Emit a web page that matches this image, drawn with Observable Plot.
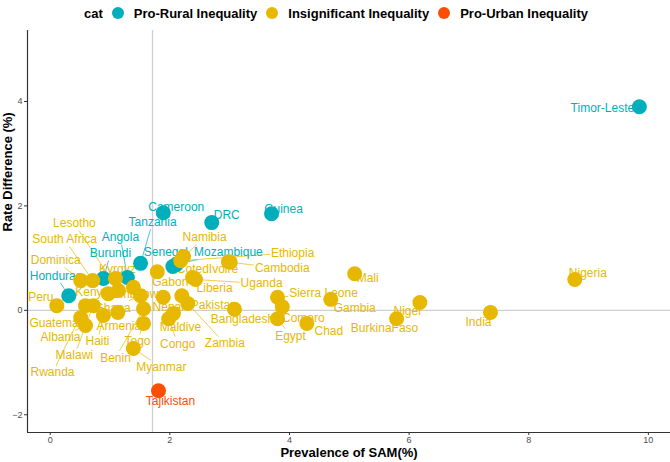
<!DOCTYPE html>
<html>
<head>
<meta charset="utf-8">
<script src="https://cdn.jsdelivr.net/npm/d3@7"></script>
<script src="https://cdn.jsdelivr.net/npm/@observablehq/plot@0.6"></script>
<style>
  html, body { margin: 0; padding: 0; background: #fff; }
  body { width: 670px; height: 462px; overflow: hidden; font-family: "Liberation Sans", Arial, sans-serif; }
  #legend { height: 28px; display: flex; align-items: center; justify-content: center; font-weight: bold; font-size: 13px; color: #000; padding-left: 2px; padding-bottom: 2px; box-sizing: border-box; }
  #legend .sw { display: inline-block; width: 12px; height: 12px; border-radius: 50%; margin: 0 10px 0 9px; }
  #legend .it { display: inline-flex; align-items: center; }
  svg { display: block; }
</style>
</head>
<body>
<div id="legend"></div>
<div id="chart"></div>
<script>
// ---- data ----
const countries = ["Honduras","Burundi","Angola","Tanzania","Senegal","Mozambique","Cameroon","DRC","Guinea","Timor-Leste",
  "Tajikistan",
  "Peru","Dominica","South Africa","Kyrgyz","Lesotho","Kenya","Zimbabwe","Ghana","Rwanda","Malawi",
  "Guatemala","Albania","Haiti","Armenia","Benin","Togo","Myanmar","Nepal","Congo","Maldive",
  "Zambia","Pakistan","Liberia","Uganda","Cambodia","CotedIvoire","Gabon","Namibia","Ethiopia","Bangladesh",
  "Sierra Leone","Comoro","Egypt","Chad","Gambia","Mali","Niger","BurkinaFaso","India","Nigeria"];
const sam = [0.31,0.89,1.29,1.51,2.05,2.11,1.89,2.70,3.70,9.85,
  1.81,
  0.11,0.51,0.71,1.09,1.14,0.97,1.39,1.51,0.59,0.72,
  0.51,0.59,0.89,1.13,1.56,1.56,1.39,1.89,1.98,2.06,
  2.30,2.20,2.38,2.43,3.01,2.98,1.79,2.23,2.18,3.08,
  3.80,3.88,3.80,4.29,4.69,5.09,6.18,5.79,7.36,8.77];
const rateDiff = [0.28,0.61,0.63,0.90,0.84,0.88,1.87,1.68,1.85,3.90,
  -1.54,
  0.09,0.57,0.57,0.61,0.38,0.32,0.44,0.28,0.09,0.09,
  -0.14,-0.29,-0.10,-0.04,0.03,-0.25,-0.73,0.25,-0.16,-0.06,
  0.13,0.28,0.63,0.59,0.92,0.93,0.74,1.03,0.95,0.02,
  0.25,0.07,-0.16,-0.25,0.21,0.70,0.15,-0.16,-0.04,0.59];
const R = "Pro-Rural Inequality", I = "Insignificant Inequality", U = "Pro-Urban Inequality";
const cat = [R,R,R,R,R,R,R,R,R,R, U,
  I,I,I,I,I,I,I,I,I,I, I,I,I,I,I,I,I,I,I,I, I,I,I,I,I,I,I,I,I,I, I,I,I,I,I,I,I,I,I,I];
const categories = [R, I, U];
const catColors = ["#00AFBB", "#E7B800", "#FC4E07"];
const refSAM = 1.71;          // vertical reference line
const xTicks = [0, 2, 4, 6, 8, 10];
const yTicks = [-2, 0, 2, 4];

// ---- label layout (repel offsets in px, layout only) ----
const labelDx = [-13,7,-7,12,-7,52,13,15,12,-37,
  12,
  -16,-25,-28,2,-44,-16,4,-28,-33,-19,
  -22,-25,-6,1,-28,-6,28,5,9,7,
  37,32,22,66,52,-21,13,21,112,8,
  46,21,13,22,24,13,-12,-12,-12,13];
const labelDy = [-20,-25,-40,-41,-14,-12,-6,-7,-5,1,
  10,
  -8,-20,-41,-9,-67,-1,7,12,67,50,
  6,12,26,14,49,18,19,10,25,14,
  40,9,11,4,6,7,10,-19,-8,10,
  -4,11,17,8,9,4,9,9,10,-6];

// ---- geometry ----
const W = 670, H = 434, mT = 2, mB = 30, mL = 27, mR = 0;
const xDomain = [-0.38, 10.37], yDomain = [-2.34, 5.36];
const xs = d3.scaleLinear(xDomain, [mL, W - mR]);
const ys = d3.scaleLinear(yDomain, [H - mB, mT]);
const fontFam = "'Liberation Sans', Arial, sans-serif";
const ctx = document.createElement("canvas").getContext("2d");
ctx.font = `12px ${fontFam}`;

const pts = countries.map((c, i) => ({name: c, x: sam[i], y: rateDiff[i], cat: cat[i]}));
const labels = [], segs = [];
pts.forEach((p, i) => {
  const px = xs(p.x), py = ys(p.y);
  const lx = px + labelDx[i], ly = py + labelDy[i];
  labels.push({name: p.name, cat: p.cat, x: xs.invert(lx), y: ys.invert(ly)});
  const w = ctx.measureText(p.name).width / 2 + 1, h = 7;
  const dx = px - lx, dy = py - ly;
  if (Math.abs(dx) <= w && Math.abs(dy) <= h) return;
  const t = Math.min(dx !== 0 ? w / Math.abs(dx) : Infinity, dy !== 0 ? h / Math.abs(dy) : Infinity);
  const ex = lx + dx * t, ey = ly + dy * t;
  const len = Math.hypot(px - ex, py - ey);
  if (len > 9) segs.push({cat: p.cat, x1: p.x, y1: p.y, x2: xs.invert(ex), y2: ys.invert(ey)});
});

// ---- legend ----
const lg = document.getElementById("legend");
lg.innerHTML = `<span>cat</span>` + categories.map((c, i) =>
  `<span class="it"><span class="sw" style="background:${catColors[i]}"></span><span>${c}</span></span>`).join("");

// ---- plot ----
const chart = Plot.plot({
  width: W, height: H, marginTop: mT, marginBottom: mB, marginLeft: mL, marginRight: mR,
  style: {fontFamily: fontFam, background: "white", overflow: "visible"},
  x: {domain: xDomain},
  y: {domain: yDomain},
  color: {domain: categories, range: catColors},
  marks: [
    Plot.ruleX([refSAM], {stroke: "#cfcfcf", strokeWidth: 1.3}),
    Plot.ruleY([0], {stroke: "#cfcfcf", strokeWidth: 1.3}),
    Plot.ruleX([xDomain[0]], {stroke: "#333", strokeWidth: 1.2}),
    Plot.ruleY([yDomain[0]], {stroke: "#333", strokeWidth: 1.2}),
    Plot.axisX({ticks: xTicks, tickSize: 3, tickPadding: 1, fontSize: 9, label: null, stroke: "#333", fill: "#4d4d4d"}),
    Plot.axisY({ticks: yTicks, tickSize: 3, tickPadding: 2, fontSize: 9, label: null, stroke: "#333", fill: "#4d4d4d"}),
    Plot.text(["Prevalence of SAM(%)"], {frameAnchor: "bottom", dy: 24, fontWeight: "bold", fontSize: 13, fill: "#000"}),
    Plot.text(["Rate Difference (%)"], {frameAnchor: "left", dx: -20, rotate: -90, fontWeight: "bold", fontSize: 13, fill: "#000"}),
    Plot.link(segs, {x1: "x1", y1: "y1", x2: "x2", y2: "y2", stroke: "cat", strokeWidth: 0.7}),
    Plot.text(labels, {x: "x", y: "y", text: "name", fill: "cat", fontSize: 12, textAnchor: "middle", lineAnchor: "middle"}),
    Plot.dot(pts, {x: "x", y: "y", fill: "cat", r: 7.5, stroke: "none"})
  ]
});
document.getElementById("chart").appendChild(chart);
</script>
</body>
</html>
